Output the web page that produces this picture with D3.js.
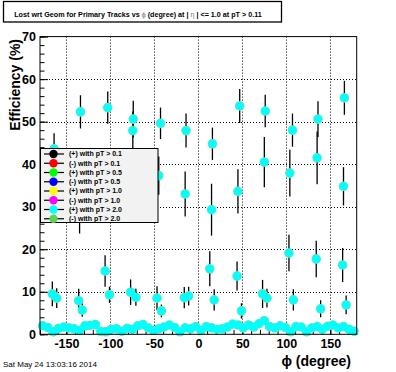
<!DOCTYPE html>
<html>
<head>
<meta charset="utf-8">
<script src="https://cdn.jsdelivr.net/npm/d3@7"></script>
<style>
  body { margin: 0; background: #fff; }
  svg { display: block; font-family: "Liberation Sans", Arial, sans-serif; }
</style>
</head>
<body>
<div id="chart"></div>
<script>
// sector points, upper band
var phiHigh = [-164, -134, -103, -74, -74.5, -43, -14, 16, 47, 76, 107, 136, 166];
var effHigh = [43.6, 52.3, 53.3, 50.6, 47.9, 49.6, 47.9, 44.8, 53.7, 52.5, 48.0, 50.6, 55.6];
var errHigh = [3.7, 3.9, 3.8, 4.3, 4.5, 3.7, 4.0, 3.8, 4.0, 3.8, 3.9, 4.2, 4.0];

// middle band (some sit under the legend)
var phiMid = [-165, -135, -105, -45, -15, 15, 45, 75, 104, 135, 165];
var effMid = [35.0, 28.0, 36.0, 37.3, 33.0, 29.3, 33.6, 40.5, 37.9, 41.5, 34.8];
var errMid = [4.0, 4.3, 4.0, 4.5, 5.3, 6.1, 5.2, 5.9, 5.5, 6.2, 4.5];

// lower band
var phiLow = [-166, -161, -136, -132, -106, -101, -77, -71, -47, -42, -16, -11,
              13, 18, 44, 49, 73, 78, 103, 108, 134, 139, 164, 168];
var effLow = [9.5, 8.5, 7.9, 5.7, 14.9, 9.3, 9.9, 8.7, 8.5, 5.5, 8.6, 9.0,
              15.4, 8.1, 13.7, 5.5, 9.5, 8.5, 19.1, 8.1, 17.7, 6.0, 16.3, 6.9];
var errLow = [2.9, 2.3, 2.8, 1.6, 3.7, 1.9, 3.0, 2.0, 2.8, 1.5, 2.5, 2.2,
              4.1, 2.5, 3.4, 1.8, 3.3, 2.2, 4.3, 2.5, 4.3, 2.0, 4.0, 2.2];

// near-zero row, one per 6 degree bin
var phiFloor = [-177, -171, -165, -159, -153, -147, -141, -135, -129, -123, -117, -111,
                -105, -99, -93, -87, -81, -75, -69, -63, -57, -51, -45, -39, -33, -27,
                -21, -15, -9, -3, 3, 9, 15, 21, 27, 33, 39, 45, 51, 57, 63, 69, 75, 81,
                87, 93, 99, 105, 111, 117, 123, 129, 135, 141, 147, 153, 159, 165, 171, 177];
var effFloor = [2.0, 1.6, 0.6, 1.4, 1.7, 1.5, 1.3, 0.9, 2.0, 2.1, 2.3, 0.7,
                0.6, 1.2, 1.3, 0.7, 1.4, 1.2, 2.0, 2.3, 1.5, 0.9, 1.3, 1.7, 2.2, 1.6,
                0.6, 1.5, 1.3, 1.8, 0.9, 1.8, 1.5, 1.2, 1.3, 1.7, 2.4, 2.2, 1.5, 2.2,
                1.7, 2.5, 3.2, 1.8, 1.5, 2.0, 1.6, 0.6, 1.8, 1.7, 0.6, 1.5, 1.8, 1.2,
                1.9, 2.2, 1.5, 1.8, 1.2, 0.7];

var legendLabels = ["(+) with pT > 0.1", "(-) with pT > 0.1", "(+) with pT > 0.5", "(-) with pT > 0.5",
                    "(+) with pT > 1.0", "(-) with pT > 1.0", "(+) with pT > 2.0", "(-) with pT > 2.0"];
var legendColors = ["#000000", "#ff0000", "#00ff00", "#0000ff", "#ffff00", "#ff00ff", "#00ffff", "#59d454"];

var xTicks = [-150, -100, -50, 0, 50, 100, 150];
var yTicks = [0, 10, 20, 30, 40, 50, 60, 70];

var width = 396, height = 372;
var frame = { left: 40, right: 356.7, top: 36.6, bottom: 334.3 };

var svg = d3.select("#chart").append("svg")
    .attr("width", width)
    .attr("height", height);

svg.append("rect").attr("width", width).attr("height", height).attr("fill", "#fff");

var x = d3.scaleLinear().domain([-180, 180]).range([frame.left, frame.right]);
var y = d3.scaleLinear().domain([0, 70]).range([frame.bottom, frame.top]);

// grid
var grid = svg.append("g")
    .attr("stroke", "#000")
    .attr("stroke-width", 1)
    .attr("stroke-dasharray", "1,2");
grid.selectAll("line.gx").data(xTicks).enter().append("line")
    .attr("x1", function(d) { return Math.round(x(d)) + 0.5; })
    .attr("x2", function(d) { return Math.round(x(d)) + 0.5; })
    .attr("y1", frame.top).attr("y2", frame.bottom);
grid.selectAll("line.gy").data(yTicks.slice(1, -1)).enter().append("line")
    .attr("y1", function(d) { return Math.round(y(d)) + 0.5; })
    .attr("y2", function(d) { return Math.round(y(d)) + 0.5; })
    .attr("x1", frame.left).attr("x2", frame.right);

// axes, ticks point inside the frame like ROOT
var xMinor = svg.append("g")
    .attr("transform", "translate(0," + frame.bottom + ")")
    .call(d3.axisBottom(x).tickValues(d3.range(-180, 181, 10)).tickSize(-4.5).tickFormat(""));
var xAxis = svg.append("g")
    .attr("transform", "translate(0," + frame.bottom + ")")
    .call(d3.axisBottom(x).tickValues(xTicks).tickSize(-9).tickPadding(5).tickFormat(d3.format("d")));
var yMinor = svg.append("g")
    .attr("transform", "translate(" + frame.left + ",0)")
    .call(d3.axisLeft(y).tickValues(d3.range(0, 71, 2)).tickSize(-4.5).tickFormat(""));
var yAxis = svg.append("g")
    .attr("transform", "translate(" + frame.left + ",0)")
    .call(d3.axisLeft(y).tickValues(yTicks).tickSize(-8).tickPadding(4).tickFormat(d3.format("d")));

[xMinor, xAxis, yMinor, yAxis].forEach(function(a) {
  a.select(".domain").remove();
  a.selectAll("line").attr("stroke", "#000");
});
svg.selectAll(".tick text")
    .attr("fill", "#000")
    .style("font-size", "12.5px")
    .style("font-weight", "bold")
    .style("font-family", "'Liberation Sans', Arial, sans-serif");
xAxis.selectAll(".tick text").text(function(d) { return d < 0 ? "-" + Math.abs(d) : d; });

// all visible points
var pts = [];
function addPts(p, e, er) {
  p.forEach(function(v, i) { pts.push({ phi: v, eff: e[i], err: er ? er[i] : 0.5 }); });
}
addPts(phiFloor, effFloor, null);
addPts(phiLow, effLow, errLow);
addPts(phiMid, effMid, errMid);
addPts(phiHigh, effHigh, errHigh);

var marks = svg.append("g");
marks.selectAll("line.err").data(pts).enter().append("line")
    .attr("x1", function(d) { return x(d.phi); })
    .attr("x2", function(d) { return x(d.phi); })
    .attr("y1", function(d) { return y(d.eff + d.err); })
    .attr("y2", function(d) { return y(Math.max(0, d.eff - d.err)); })
    .attr("stroke", "#000")
    .attr("stroke-width", 1.3);
marks.selectAll("circle.under").data(pts).enter().append("circle")
    .attr("cx", function(d) { return x(d.phi); })
    .attr("cy", function(d) { return y(d.eff); })
    .attr("r", 4.8)
    .attr("fill", "#7fe0a0");
marks.selectAll("circle.pt").data(pts).enter().append("circle")
    .attr("cx", function(d) { return x(d.phi); })
    .attr("cy", function(d) { return y(d.eff); })
    .attr("r", 4.2)
    .attr("fill", "#00ffff");

// frame
svg.append("rect")
    .attr("x", frame.left).attr("y", frame.top)
    .attr("width", frame.right - frame.left)
    .attr("height", frame.bottom - frame.top)
    .attr("fill", "none").attr("stroke", "#000").attr("stroke-width", 1);

// legend
var lg = svg.append("g");
lg.append("rect")
    .attr("x", 40.5).attr("y", 148.5).attr("width", 117.5).attr("height", 74)
    .attr("fill", "#f2f2f2").attr("stroke", "#000").attr("stroke-width", 1);
var row = lg.selectAll("g.row").data(legendLabels).enter().append("g")
    .attr("transform", function(d, i) { return "translate(0," + (154 + i * 9.25) + ")"; });
row.append("line").attr("x1", 44).attr("x2", 64).attr("stroke", "#000").attr("stroke-width", 1.2);
row.append("circle").attr("cx", 53.5).attr("r", 4.2)
    .attr("fill", function(d, i) { return legendColors[i]; });
row.append("text").attr("x", 69).attr("dy", "0.35em")
    .style("font-size", "7px").style("font-weight", "bold")
    .text(function(d) { return d; });

// title box
svg.append("rect").attr("x", 3.5).attr("y", 1.5).attr("width", 278).attr("height", 20.5)
    .attr("fill", "#fff").attr("stroke", "#000").attr("stroke-width", 1.3);
var title = svg.append("text").attr("x", 138).attr("y", 16.5)
    .attr("text-anchor", "middle")
    .style("font-size", "7.2px").style("font-weight", "bold");
title.append("tspan").text("Lost wrt Geom for Primary Tracks vs  ");
title.append("tspan").attr("fill", "#777").style("font-weight", "normal").text("ϕ");
title.append("tspan").text(" (degree) at |  ");
title.append("tspan").attr("fill", "#777").style("font-weight", "normal").text("η");
title.append("tspan").text(" | <= 1.0 at pT > 0.11");

// axis titles
svg.append("text")
    .attr("transform", "translate(20,39) rotate(-90)")
    .attr("text-anchor", "end")
    .style("font-size", "14px").style("font-weight", "bold")
    .text("Efficiency (%)");
svg.append("text")
    .attr("x", 351).attr("y", 366)
    .attr("text-anchor", "end")
    .style("font-size", "14px").style("font-weight", "bold")
    .text("ϕ (degree)");

svg.append("text")
    .attr("x", 3).attr("y", 367)
    .style("font-size", "8px")
    .text("Sat May 24 13:03:16 2014");
</script>
</body>
</html>
